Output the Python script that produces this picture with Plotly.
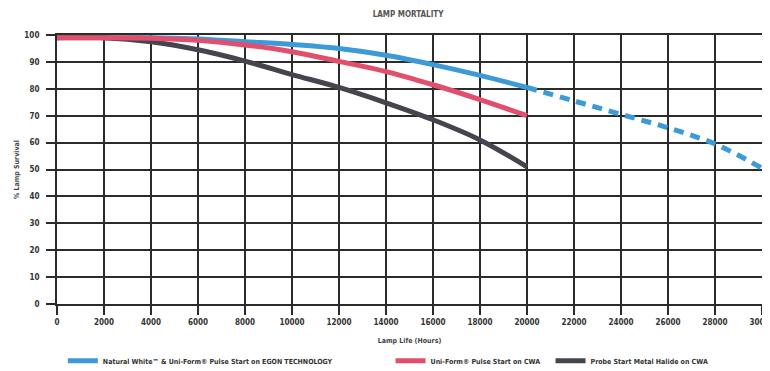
import plotly.graph_objects as go

# ── Data ────────────────────────────────────────────────────────────────────
hours = [0, 2000, 4000, 6000, 8000, 10000, 12000, 14000, 16000, 18000, 20000]
hours_ext = [20000, 22000, 24000, 26000, 28000, 30000]

natural_white = [99, 99, 99, 98.5, 97.5, 96.5, 95, 92.5, 89, 85, 80.5]
natural_white_ext = [80.5, 75.5, 70.5, 65.5, 59.5, 50.5]
uniform_cwa = [99, 99, 98.8, 98, 96.3, 93.8, 90.2, 86.4, 81.5, 76, 70]
probe_start = [99, 99, 97.5, 94.5, 90.3, 85.3, 80.5, 74.8, 68.5, 61, 51]

x_ticks = list(range(0, 30001, 2000))
y_ticks = list(range(0, 101, 10))

BLUE = "#3d9ad8"
RED = "#e24f6c"
DARK = "#45454f"
FONT = "DejaVu Sans Condensed, Liberation Sans Narrow, Arial"

fig = go.Figure()

fig.add_trace(go.Scatter(x=hours, y=natural_white, mode="lines", line_shape="spline",
                         line=dict(color=BLUE, width=5),
                         name="Natural White\u2122 & Uni-Form\u00ae Pulse Start on EGON TECHNOLOGY",
                         legend="legend"))
fig.add_trace(go.Scatter(x=hours_ext, y=natural_white_ext, mode="lines", line_shape="spline",
                         line=dict(color=BLUE, width=5, dash="10px,7px"),
                         showlegend=False))
fig.add_trace(go.Scatter(x=hours, y=probe_start, mode="lines", line_shape="spline",
                         line=dict(color=DARK, width=5),
                         name="Probe Start Metal Halide on CWA", legend="legend3"))
fig.add_trace(go.Scatter(x=hours, y=uniform_cwa, mode="lines", line_shape="spline",
                         line=dict(color=RED, width=5),
                         name="Uni-Form\u00ae Pulse Start on CWA", legend="legend2"))

axis_common = dict(showgrid=True, gridcolor="#2b2b2b", gridwidth=2,
                   showline=True, linecolor="#2b2b2b", linewidth=2, mirror=True,
                   ticks="outside", tickcolor="#2b2b2b", tickwidth=2, ticklen=9,
                   zeroline=False, automargin=False, ticklabeloverflow="allow",
                   tickfont=dict(family=FONT, size=8, color="#333", weight="bold"))

fig.update_xaxes(range=[0, 30000], tickvals=x_ticks, ticktext=[str(v) for v in x_ticks],
                 title=dict(text="<b>Lamp Life (Hours)</b>", standoff=13,
                            font=dict(family=FONT, size=7, color="#444")),
                 **axis_common)
fig.update_yaxes(range=[0, 100], tickvals=y_ticks, ticklabelstandoff=5,
                 title=dict(text="<b>% Lamp Survival</b>", standoff=4,
                            font=dict(family=FONT, size=7, color="#444")),
                 **axis_common)

leg_font = dict(family=FONT, size=7, color="#333", weight="bold")
leg_common = dict(orientation="h", xref="container", yref="container",
                  yanchor="middle", xanchor="left", font=leg_font,
                  bgcolor="rgba(0,0,0,0)", itemwidth=30, tracegroupgap=0)

# page body adds an 8px offset, so the figure is sized/positioned to compensate
fig.update_layout(
    width=762, height=363,
    margin=dict(l=49, r=8, t=27, b=67, autoexpand=False),
    paper_bgcolor="white", plot_bgcolor="white",
    title=dict(text="<b>LAMP MORTALITY</b>", x=0.525, xanchor="center", y=0.983, yanchor="middle",
               font=dict(family=FONT, size=8, color="#555")),
    legend=dict(x=0.072, y=0.028, **leg_common),
    legend2=dict(x=0.502, y=0.028, **leg_common),
    legend3=dict(x=0.712, y=0.028, **leg_common),
)

fig.write_html("out.html")
